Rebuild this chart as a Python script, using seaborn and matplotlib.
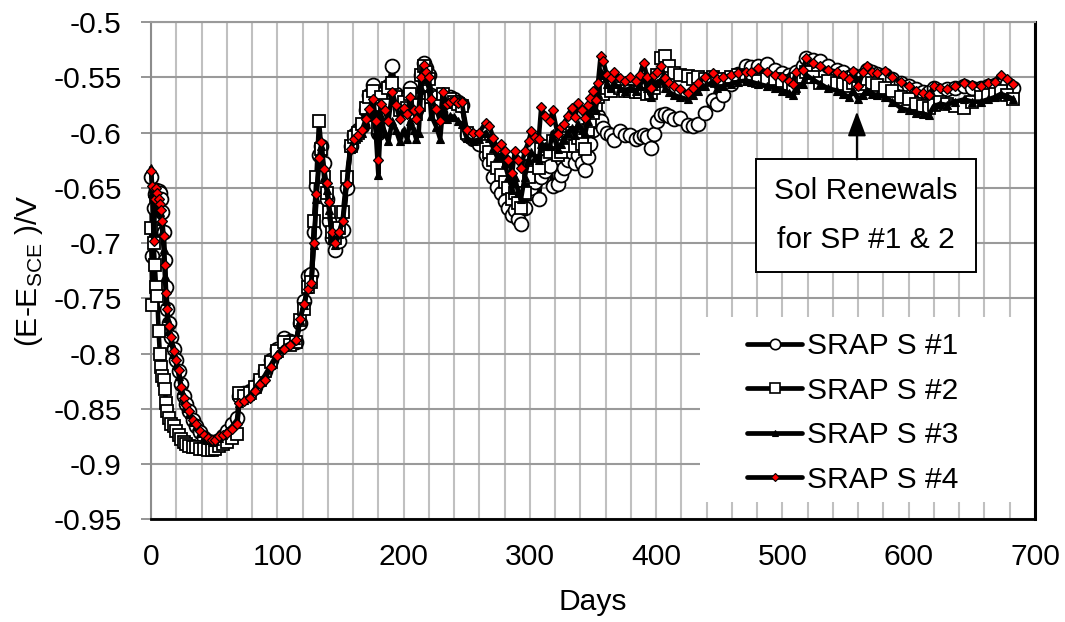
import matplotlib
matplotlib.use("Agg")
import matplotlib.pyplot as plt
import seaborn as sns
import pandas as pd
from matplotlib.lines import Line2D
from matplotlib.patches import Rectangle
from matplotlib.ticker import MultipleLocator, FixedLocator

sns.set_theme(style="white")
plt.rcParams['font.family'] = ['Liberation Sans', 'DejaVu Sans']
plt.rcParams['text.color'] = 'black'
plt.rcParams['axes.labelcolor'] = 'black'
plt.rcParams['xtick.color'] = 'black'
plt.rcParams['ytick.color'] = 'black'

# ---------------- data ----------------
days = [
    0, 1, 2, 3, 4, 5, 6, 7, 8, 9,
    10, 11, 12, 13, 14, 16, 18, 20, 22, 24,
    26, 28, 30, 33, 36, 39, 42, 45, 48, 51,
    54, 57, 60, 64, 68, 70, 74, 78, 82, 86,
    90, 95, 100, 105, 110, 115, 118, 121, 124, 127,
    129, 131, 133, 135, 137, 139, 141, 143, 146, 149,
    152, 155, 158, 161, 164, 167, 170, 173, 176, 178,
    180, 182, 185, 188, 191, 194, 197, 200, 203, 205,
    208, 210, 212, 214, 216, 218, 220, 222, 226, 229,
    231, 234, 237, 240, 243, 246, 250, 255, 260, 265,
    268, 271, 274, 277, 280, 283, 286, 288, 291, 293,
    296, 299, 301, 304, 307, 309, 312, 316, 318, 322,
    325, 327, 330, 333, 336, 338, 341, 344, 346, 348,
    350, 352, 354, 356, 358, 361, 364, 367, 371, 375,
    379, 384, 387, 390, 393, 396, 398, 401, 404, 407,
    410, 414, 419, 425, 429, 433, 439, 445, 448, 453,
    459, 465, 471, 475, 481, 488, 494, 500, 505, 508,
    511, 516, 519, 524, 530, 536, 543, 548, 553, 556,
    560, 564, 567, 571, 575, 581, 587, 594, 600, 606,
    611, 616, 620, 625, 630, 637, 644, 650, 657, 663,
    668, 673, 678, 683,
]

srap1 = [
    -0.640, -0.712, -0.668, -0.656, -0.652, -0.653, -0.653, -0.655, -0.660, -0.672,
    -0.690, -0.715, -0.740, -0.760, -0.772, -0.785, -0.796, -0.806, -0.816, -0.828,
    -0.838, -0.846, -0.852, -0.860, -0.866, -0.871, -0.876, -0.879, -0.880, -0.880,
    -0.878, -0.875, -0.870, -0.864, -0.858, -0.838, -0.836, -0.834, -0.830, -0.824,
    -0.816, -0.806, -0.796, -0.786, -0.789, -0.790, -0.772, -0.752, -0.730, -0.728,
    -0.690, -0.648, -0.620, -0.612, -0.628, -0.660, -0.680, -0.695, -0.706, -0.698,
    -0.688, -0.650, -0.612, -0.602, -0.598, -0.594, -0.580, -0.566, -0.557, -0.570,
    -0.600, -0.565, -0.570, -0.558, -0.540, -0.565, -0.578, -0.570, -0.575, -0.560,
    -0.572, -0.580, -0.570, -0.548, -0.537, -0.542, -0.548, -0.566, -0.572, -0.582,
    -0.566, -0.570, -0.568, -0.570, -0.572, -0.575, -0.602, -0.606, -0.610, -0.620,
    -0.628, -0.640, -0.649, -0.655, -0.662, -0.668, -0.675, -0.670, -0.678, -0.683,
    -0.668, -0.655, -0.650, -0.645, -0.660, -0.640, -0.635, -0.630, -0.648, -0.647,
    -0.638, -0.632, -0.625, -0.618, -0.628, -0.620, -0.628, -0.634, -0.622, -0.610,
    -0.598, -0.590, -0.585, -0.590, -0.596, -0.600, -0.602, -0.607, -0.599, -0.602,
    -0.602, -0.606, -0.604, -0.602, -0.604, -0.614, -0.601, -0.590, -0.584, -0.583,
    -0.585, -0.588, -0.587, -0.593, -0.594, -0.592, -0.582, -0.571, -0.574, -0.566,
    -0.556, -0.547, -0.540, -0.541, -0.540, -0.538, -0.543, -0.546, -0.548, -0.551,
    -0.545, -0.540, -0.533, -0.534, -0.535, -0.540, -0.543, -0.545, -0.550, -0.548,
    -0.554, -0.548, -0.543, -0.545, -0.547, -0.548, -0.552, -0.555, -0.558, -0.561,
    -0.563, -0.563, -0.560, -0.562, -0.561, -0.560, -0.558, -0.560, -0.560, -0.558,
    -0.557, -0.553, -0.556, -0.560,
]

srap2 = [
    -0.686, -0.756, -0.700, -0.720, -0.740, -0.748, -0.780, -0.800, -0.812, -0.820,
    -0.824, -0.832, -0.845, -0.852, -0.858, -0.864, -0.866, -0.870, -0.874, -0.877,
    -0.880, -0.882, -0.884, -0.885, -0.885, -0.886, -0.886, -0.887, -0.887, -0.886,
    -0.884, -0.882, -0.880, -0.876, -0.873, -0.836, -0.838, -0.836, -0.830, -0.824,
    -0.816, -0.808, -0.798, -0.790, -0.792, -0.790, -0.770, -0.760, -0.740, -0.735,
    -0.680, -0.640, -0.590, -0.615, -0.640, -0.655, -0.672, -0.690, -0.695, -0.686,
    -0.672, -0.640, -0.612, -0.604, -0.600, -0.592, -0.578, -0.568, -0.562, -0.575,
    -0.596, -0.568, -0.575, -0.560, -0.555, -0.568, -0.580, -0.572, -0.578, -0.565,
    -0.575, -0.583, -0.575, -0.548, -0.540, -0.545, -0.552, -0.568, -0.575, -0.585,
    -0.565, -0.572, -0.570, -0.572, -0.574, -0.576, -0.600, -0.604, -0.606, -0.612,
    -0.618, -0.625, -0.632, -0.638, -0.645, -0.650, -0.660, -0.655, -0.664, -0.668,
    -0.655, -0.640, -0.630, -0.625, -0.632, -0.615, -0.612, -0.618, -0.608, -0.620,
    -0.618, -0.612, -0.605, -0.600, -0.612, -0.605, -0.610, -0.615, -0.598, -0.590,
    -0.582, -0.575, -0.568, -0.562, -0.565, -0.560, -0.562, -0.558, -0.560, -0.562,
    -0.562, -0.563, -0.563, -0.560, -0.565, -0.564, -0.560, -0.548, -0.533, -0.531,
    -0.540, -0.546, -0.548, -0.549, -0.552, -0.550, -0.552, -0.550, -0.553, -0.552,
    -0.550, -0.548, -0.549, -0.550, -0.553, -0.552, -0.552, -0.553, -0.556, -0.560,
    -0.552, -0.550, -0.545, -0.550, -0.555, -0.553, -0.555, -0.556, -0.558, -0.555,
    -0.560, -0.556, -0.552, -0.555, -0.557, -0.560, -0.562, -0.568, -0.570, -0.574,
    -0.576, -0.578, -0.575, -0.572, -0.574, -0.576, -0.578, -0.572, -0.568, -0.566,
    -0.565, -0.562, -0.566, -0.570,
]

srap3 = [
    -0.632, -0.655, -0.690, -0.670, -0.658, -0.662, -0.668, -0.672, -0.680, -0.690,
    -0.705, -0.730, -0.752, -0.768, -0.780, -0.790, -0.800, -0.810, -0.820, -0.833,
    -0.842, -0.849, -0.855, -0.862, -0.866, -0.872, -0.876, -0.878, -0.880, -0.879,
    -0.876, -0.874, -0.870, -0.866, -0.860, -0.845, -0.842, -0.838, -0.832, -0.826,
    -0.820, -0.810, -0.800, -0.794, -0.791, -0.788, -0.770, -0.756, -0.742, -0.735,
    -0.702, -0.660, -0.628, -0.612, -0.640, -0.652, -0.670, -0.695, -0.702, -0.692,
    -0.676, -0.645, -0.615, -0.607, -0.604, -0.600, -0.592, -0.586, -0.580, -0.600,
    -0.638, -0.585, -0.600, -0.608, -0.590, -0.598, -0.608, -0.598, -0.606, -0.590,
    -0.598, -0.606, -0.600, -0.560, -0.545, -0.552, -0.560, -0.585, -0.595, -0.606,
    -0.580, -0.588, -0.585, -0.586, -0.590, -0.592, -0.605, -0.608, -0.606, -0.600,
    -0.605, -0.614, -0.622, -0.620, -0.628, -0.640, -0.652, -0.640, -0.655, -0.660,
    -0.640, -0.625, -0.618, -0.622, -0.625, -0.610, -0.612, -0.612, -0.600, -0.615,
    -0.610, -0.606, -0.600, -0.596, -0.602, -0.592, -0.598, -0.600, -0.590, -0.582,
    -0.575, -0.580, -0.565, -0.545, -0.548, -0.556, -0.560, -0.556, -0.560, -0.562,
    -0.560, -0.562, -0.558, -0.550, -0.560, -0.568, -0.558, -0.555, -0.552, -0.560,
    -0.563, -0.566, -0.568, -0.570, -0.566, -0.562, -0.558, -0.554, -0.560, -0.558,
    -0.556, -0.554, -0.553, -0.554, -0.556, -0.558, -0.560, -0.562, -0.564, -0.566,
    -0.560, -0.556, -0.548, -0.552, -0.556, -0.560, -0.562, -0.565, -0.568, -0.562,
    -0.570, -0.566, -0.562, -0.565, -0.566, -0.568, -0.572, -0.578, -0.580, -0.582,
    -0.583, -0.584, -0.576, -0.574, -0.575, -0.572, -0.570, -0.572, -0.572, -0.570,
    -0.568, -0.565, -0.567, -0.570,
]

srap4 = [
    -0.635, -0.648, -0.698, -0.660, -0.650, -0.655, -0.660, -0.665, -0.670, -0.680,
    -0.694, -0.720, -0.745, -0.760, -0.775, -0.785, -0.798, -0.806, -0.815, -0.830,
    -0.840, -0.847, -0.852, -0.860, -0.864, -0.870, -0.874, -0.876, -0.878, -0.878,
    -0.875, -0.874, -0.872, -0.868, -0.864, -0.845, -0.843, -0.840, -0.834, -0.828,
    -0.824, -0.812, -0.802, -0.796, -0.792, -0.788, -0.769, -0.755, -0.742, -0.736,
    -0.700, -0.656, -0.623, -0.609, -0.633, -0.646, -0.663, -0.690, -0.700, -0.690,
    -0.680, -0.647, -0.615, -0.606, -0.602, -0.598, -0.588, -0.579, -0.570, -0.590,
    -0.625, -0.574, -0.580, -0.590, -0.563, -0.575, -0.588, -0.578, -0.583, -0.568,
    -0.580, -0.588, -0.579, -0.550, -0.539, -0.545, -0.550, -0.570, -0.579, -0.590,
    -0.563, -0.574, -0.572, -0.571, -0.573, -0.572, -0.598, -0.600, -0.600, -0.591,
    -0.594, -0.605, -0.614, -0.610, -0.617, -0.625, -0.637, -0.617, -0.625, -0.632,
    -0.617, -0.608, -0.599, -0.604, -0.606, -0.577, -0.585, -0.590, -0.580, -0.601,
    -0.595, -0.592, -0.585, -0.578, -0.586, -0.573, -0.580, -0.587, -0.575, -0.569,
    -0.562, -0.571, -0.555, -0.531, -0.535, -0.548, -0.551, -0.545, -0.551, -0.553,
    -0.550, -0.553, -0.548, -0.537, -0.550, -0.560, -0.548, -0.545, -0.540, -0.551,
    -0.555, -0.558, -0.561, -0.564, -0.560, -0.555, -0.550, -0.546, -0.552, -0.550,
    -0.548, -0.546, -0.545, -0.545, -0.542, -0.545, -0.548, -0.550, -0.553, -0.556,
    -0.545, -0.543, -0.533, -0.537, -0.540, -0.543, -0.545, -0.548, -0.552, -0.544,
    -0.558, -0.545, -0.540, -0.545, -0.546, -0.544, -0.550, -0.554, -0.558, -0.562,
    -0.564, -0.566, -0.558, -0.560, -0.561, -0.558, -0.555, -0.557, -0.558, -0.555,
    -0.554, -0.548, -0.552, -0.556,
]

series_labels = ["SRAP S #1", "SRAP S #2", "SRAP S #3", "SRAP S #4"]
x_ticks = [0, 100, 200, 300, 400, 500, 600, 700]
y_ticks = [-0.95, -0.9, -0.85, -0.8, -0.75, -0.7, -0.65, -0.6, -0.55, -0.5]
x_label = "Days"
y_label = "(E-E$_{\\mathregular{SCE}}$ )/V"
note_text = "Sol Renewals\nfor SP #1 & 2"
note_day = 559
note_value = -0.581

# ---------------- styles ----------------
FS = 21.6
styles = [
    dict(marker="o", markersize=10, markerfacecolor="white", markeredgecolor="black", markeredgewidth=1.3),
    dict(marker="s", markersize=8.8, markerfacecolor="white", markeredgecolor="black", markeredgewidth=1.3),
    dict(marker="^", markersize=6.0, markerfacecolor="black", markeredgecolor="black", markeredgewidth=0.8),
    dict(marker="D", markersize=4.9, markerfacecolor="#ff0000", markeredgecolor="black", markeredgewidth=0.9),
]
legend_styles = [
    dict(marker="o", markersize=7.5, markerfacecolor="white", markeredgecolor="black", markeredgewidth=1.2),
    dict(marker="s", markersize=6.5, markerfacecolor="white", markeredgecolor="black", markeredgewidth=1.2),
    dict(marker="^", markersize=4.5, markerfacecolor="black", markeredgecolor="black", markeredgewidth=0.8),
    dict(marker="D", markersize=4.0, markerfacecolor="#ff0000", markeredgecolor="black", markeredgewidth=0.8),
]

fig = plt.figure(figsize=(10.65, 6.22), dpi=100)
ax = fig.add_axes([0.1418, 0.1651, 0.8300, 0.7995])

all_series = [srap1, srap2, srap3, srap4]
for lab, vals, st in zip(series_labels, all_series, styles):
    df = pd.DataFrame({"Days": days, "E": vals})
    sns.lineplot(data=df, x="Days", y="E", ax=ax, color="black", linewidth=3.3,
                 sort=False, estimator=None, legend=False, clip_on=False,
                 zorder=3, **st)

ax.set_xlim(0, 700)
ax.set_ylim(-0.95, -0.5)
ax.xaxis.set_major_locator(FixedLocator(x_ticks))
ax.xaxis.set_minor_locator(MultipleLocator(20))
ax.yaxis.set_major_locator(FixedLocator(y_ticks))
ax.set_xticklabels([str(v) for v in x_ticks], fontsize=FS)
ax.set_yticklabels([f"{v:g}" for v in y_ticks], fontsize=FS)

ax.set_axisbelow(True)
ax.grid(True, which="major", axis="y", color="#9a9a9a", linewidth=1.5)
ax.grid(True, which="both", axis="x", color="#c0c0c0", linewidth=1.5)

ax.tick_params(axis="y", which="major", left=True, length=7, width=1.3,
               color="#8c8c8c", pad=14, labelcolor="black")
ax.tick_params(axis="x", which="both", bottom=False, length=0, pad=17, labelcolor="black")

for side, col, lw in [("left", "#8c8c8c", 1.5), ("top", "#9a9a9a", 1.5),
                      ("bottom", "black", 2.0), ("right", "black", 2.2)]:
    ax.spines[side].set_visible(True)
    ax.spines[side].set_color(col)
    ax.spines[side].set_linewidth(lw)

ax.set_xlabel(x_label, fontsize=FS, labelpad=12, color="black")
ax.set_ylabel(y_label, fontsize=FS, color="black")
ax.yaxis.set_label_coords(-0.12, 0.5)

# white legend area covering the grid
ax.add_patch(Rectangle((0.621, 0.035), 0.379, 0.372, transform=ax.transAxes,
                       facecolor="white", edgecolor="none", zorder=1))
handles = [Line2D([0], [0], color="black", linewidth=3.4, **st) for st in legend_styles]
leg = ax.legend(handles, series_labels, loc="upper left", bbox_to_anchor=(0.674, 0.376),
                frameon=False, fontsize=FS, handlelength=1.85, handletextpad=0.15,
                labelspacing=0.55, borderpad=0, borderaxespad=0)
for t in leg.get_texts():
    t.set_color("black")

# annotation box + arrow
ax.text(566, -0.6751, note_text, ha="center", va="center", fontsize=FS,
        linespacing=1.95, zorder=5, color="black",
        bbox=dict(boxstyle="square,pad=0.6", facecolor="white", edgecolor="black", linewidth=1.4))
ax.annotate("", xy=(note_day, note_value), xytext=(note_day, -0.6243),
            arrowprops=dict(arrowstyle="-|>,head_length=0.75,head_width=0.28",
                            color="black", lw=1.5, mutation_scale=20,
                            shrinkA=0, shrinkB=0), zorder=5)

fig.savefig("out.png", dpi=100)
